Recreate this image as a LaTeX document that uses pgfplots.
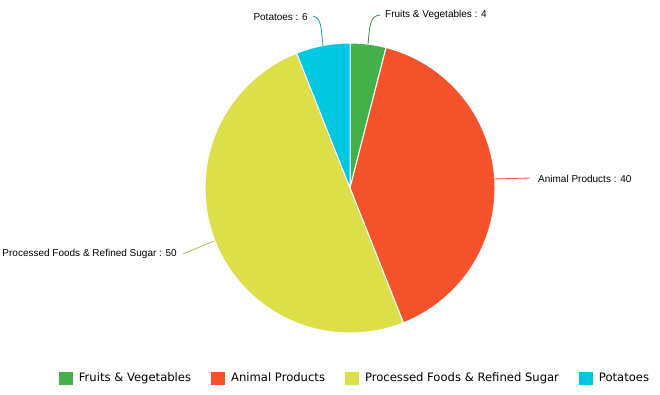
\documentclass[border=0pt]{standalone}
\usepackage{pgfplots}
\pgfplotsset{compat=1.18}
\usepackage{fontspec}
\setmainfont{Liberation Sans}
\newfontfamily\legfont{DejaVu Sans}
\definecolor{cFruit}{RGB}{67,176,73}
\definecolor{cAnimal}{RGB}{244,82,43}
\definecolor{cProc}{RGB}{220,223,71}
\definecolor{cPot}{RGB}{0,200,224}
% values (percent)
\def\vA{4}\def\vB{40}\def\vC{50}\def\vD{6}
\pgfmathsetmacro{\aA}{90}
\pgfmathsetmacro{\aB}{\aA-3.6*\vA}
\pgfmathsetmacro{\aC}{\aB-3.6*\vB}
\pgfmathsetmacro{\aD}{\aC-3.6*\vC}
\pgfmathsetmacro{\aE}{\aD-3.6*\vD}
\def\cx{350}\def\cy{206}\def\R{145}
\begin{document}
\begin{tikzpicture}
\begin{axis}[
  width=660pt, height=394pt, scale only axis,
  xmin=0, xmax=660, ymin=0, ymax=394,
  hide axis, clip=false,
  legend columns=-1,
  legend style={at={(axis cs:354,16)}, anchor=center, draw=none, fill=none,
    font=\legfont\fontsize{11.6}{13}\selectfont, inner sep=0pt,
    nodes={inner sep=0pt},
    /tikz/every even column/.append style={column sep=20pt}},
  legend image code/.code={\fill[#1, draw=none] (0pt,-6.5pt) rectangle (14pt,6.5pt); \path[draw=none, fill=none] (0pt,0pt) -- (20pt,0pt);},
]
\path (axis cs:0,0) rectangle (axis cs:660,394);
\addplot[fill=cFruit, draw=white, line width=1pt, domain=\aB:\aA, samples=20, smooth]
  ({\cx+\R*cos(x)},{\cy+\R*sin(x)}) -- (axis cs:\cx,\cy) -- cycle;
\addlegendentry{Fruits \& Vegetables}
\addplot[fill=cAnimal, draw=white, line width=1pt, domain=\aC:\aB, samples=80, smooth]
  ({\cx+\R*cos(x)},{\cy+\R*sin(x)}) -- (axis cs:\cx,\cy) -- cycle;
\addlegendentry{Animal Products}
\addplot[fill=cProc, draw=white, line width=1pt, domain=\aD:\aC, samples=90, smooth]
  ({\cx+\R*cos(x)},{\cy+\R*sin(x)}) -- (axis cs:\cx,\cy) -- cycle;
\addlegendentry{Processed Foods \& Refined Sugar}
\addplot[fill=cPot, draw=white, line width=1pt, domain=\aE:\aD, samples=20, smooth]
  ({\cx+\R*cos(x)},{\cy+\R*sin(x)}) -- (axis cs:\cx,\cy) -- cycle;
\addlegendentry{Potatoes}
% leader lines and labels
\draw[cFruit!80!black, line width=0.8pt] (axis cs:368,350) .. controls (axis cs:370,370) and (axis cs:370,378) .. (axis cs:380,379);
\node[anchor=west, font=\fontsize{10}{11}\selectfont, inner sep=0pt] at (axis cs:385,379) {Fruits \& Vegetables : 4};
\draw[cPot!85!black, line width=0.8pt] (axis cs:323,348) .. controls (axis cs:321,368) and (axis cs:321,376) .. (axis cs:313,378);
\node[anchor=east, font=\fontsize{10}{11}\selectfont, inner sep=0pt] at (axis cs:308,377) {Potatoes : 6};
\draw[cAnimal, line width=0.8pt] (axis cs:494,215) -- (axis cs:530,216);
\node[anchor=west, font=\fontsize{10}{11}\selectfont, inner sep=0pt] at (axis cs:538,215) {Animal Products : 40};
\draw[cProc!85!black, line width=0.8pt] (axis cs:214,153) -- (axis cs:183,140);
\node[anchor=east, font=\fontsize{10}{11}\selectfont, inner sep=0pt] at (axis cs:177,140) {Processed Foods \& Refined Sugar : 50};
\end{axis}
\end{tikzpicture}
\end{document}
